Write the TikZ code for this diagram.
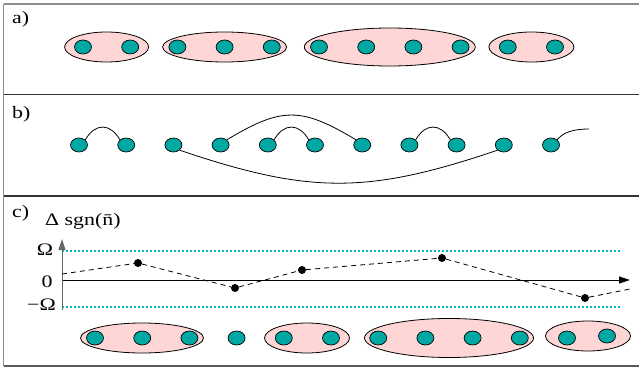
\documentclass[tikz,border=0pt]{standalone}
\usepackage{fontspec}
\setmainfont{Liberation Serif}
\newfontfamily\widefont{Liberation Serif}[FakeStretch=1.25]
\usepackage{tikz}
\usetikzlibrary{positioning, calc, arrows.meta, shapes, shapes.geometric}
\definecolor{siteteal}{RGB}{0,168,164}
\definecolor{pairpink}{RGB}{255,214,214}
\definecolor{gapcyan}{RGB}{0,185,195}
\tikzset{pxgrid/.style={x=1pt, y=-1pt}}
\tikzset{site/.style={ellipse, draw=black, line width=0.7pt, fill=siteteal, minimum width=17pt, minimum height=14pt, inner sep=0pt}}
\tikzset{grp/.style args={#1 and #2}{ellipse, draw=black, line width=0.8pt, fill=pairpink, minimum width=#1, minimum height=#2, inner sep=0pt}}
\tikzset{lbl/.style={font=\widefont\fontsize{17.5}{19}\selectfont, inner sep=0pt}}
\tikzset{rule/.style={draw=#1, line width=1.3pt}}
\tikzset{bond/.style={draw, line width=0.8pt}}
\tikzset{arr/.style={draw, line width=1pt, -{Triangle[length=11pt, width=7pt]}}}
\tikzset{level/.style={draw=gapcyan, line width=1.2pt, dash pattern=on 2pt off 2pt}}
\tikzset{walk/.style={draw, line width=0.8pt, dash pattern=on 5pt off 4pt}}
\tikzset{jump/.style={circle, fill=black, inner sep=0pt, minimum size=8pt}}

\begin{document}
\begin{tikzpicture}[pxgrid]
			\useasboundingbox (0,0) rectangle (639,371);
			% frame
			\draw[rule=black!45] (3.5,4) -- (639,4);
			\draw[rule=black!45] (3.5,4) -- (3.5,366);
			\draw[rule=black!80] (3.5,94.5) -- (639,94.5);
			\draw[rule=black!80] (3.5,196) -- (639,196);
			\draw[rule=black!65] (3.5,366) -- (639,366);
			\node[lbl, anchor=west] (la) at (12,19.5) {a)};
			\node[lbl, anchor=west] (lb) at (12,114.5) {b)};
			\node[lbl, anchor=west] (lc) at (12,213) {c)};
			%
			% a) groups
			\node[grp={84pt and 30pt}] (ga1) at (106.6,47) {};
			\node[grp={124pt and 30pt}] (ga2) at (224.6,47) {};
			\node[grp={171pt and 38pt}] (ga3) at (389.8,47) {};
			\node[grp={85pt and 30pt}] (ga4) at (531.4,47) {};
			\foreach \i in {0,...,10}
				\node[site] (a\i) at ({83+47.2*\i},47) {};
			%
			% b) bonds
			\foreach \i in {0,...,10}
				\node[site] (b\i) at ({79+47.2*\i},145) {};
			\draw[bond] (b0.north east) .. controls +(10,-17) and +(-10,-17) .. (b1.north west);
			\draw[bond] (b4.north east) .. controls +(10,-17) and +(-10,-17) .. (b5.north west);
			\draw[bond] (b7.north east) .. controls +(10,-17) and +(-10,-17) .. (b8.north west);
			\draw[bond] (b3.north east) .. controls +(55,-33) and +(-55,-33) .. (b6.north west);
			\draw[bond] (b2.south east) .. controls +(130,44) and +(-130,44) .. (b9.south west);
			\coordinate (tail) at (589,129);
			\draw[bond] (b10.north east) .. controls +(6,-8) and +(-14,0) .. (tail);
			%
			% c) axes
			\coordinate (ybot) at (62,310);
			\coordinate (ytop) at (62,239);
			\coordinate (xl) at (62,280);
			\coordinate (xr) at (630,280);
			\draw[level] (62,251) -- (622,251);
			\draw[level] (62,307) -- (622,307);
			\draw[arr] (xl) -- (xr);
			\draw[arr, draw=black!60] (ybot) -- (ytop);
			\node[lbl, anchor=west] (yname) at (45,221) {Δ sgn(\={n})};
			\node[lbl] (omhi) at (45,250) {Ω};
			\node[lbl] (zero) at (47,282) {0};
			\node[lbl, anchor=east] (omlo) at (56,305) {−Ω};
			%
			\coordinate (w0) at (62,274);
			\node[jump] (w1) at (138,263) {};
			\node[jump] (w2) at (235,288) {};
			\node[jump] (w3) at (302,270) {};
			\node[jump] (w4) at (442,258) {};
			\node[jump] (w5) at (585,298) {};
			\coordinate (w6) at (630,289);
			\draw[walk] (w0) -- (w1) -- (w2) -- (w3) -- (w4) -- (w5) -- (w6);
			%
			% c) groups
			\node[grp={123pt and 30pt}] (gc1) at (142,338) {};
			\node[grp={85pt and 30pt}] (gc2) at (307,338) {};
			\node[grp={169pt and 39pt}] (gc3) at (449,338) {};
			\node[grp={85pt and 30pt}] (gc4) at (588,336) {};
			\foreach \i in {0,...,10}
				\node[site] (c\i) at ({95+47.2*\i},338) {};
			\node[site] (c11) at (607,336) {};
		\end{tikzpicture}
\end{document}
